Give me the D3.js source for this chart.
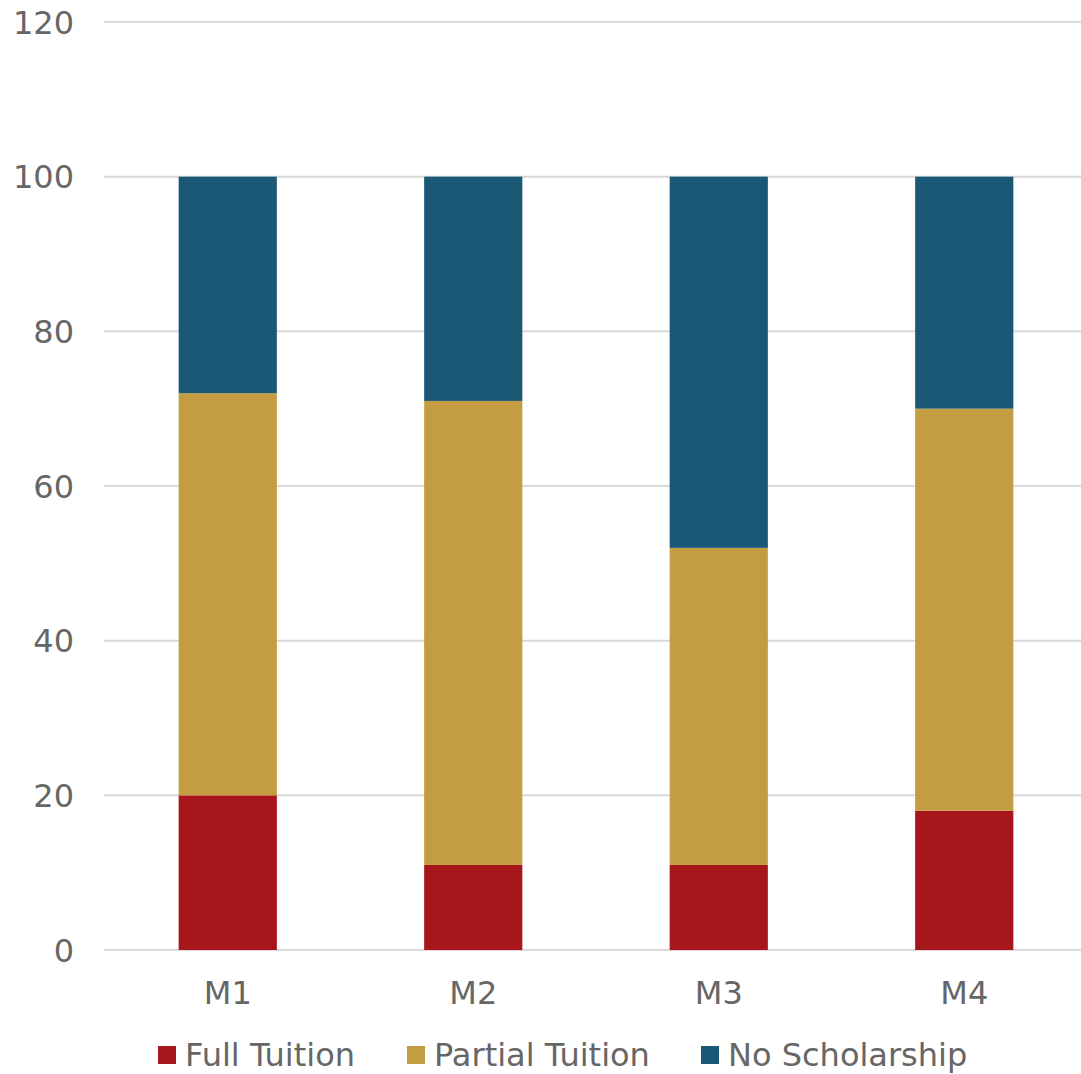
<!DOCTYPE html>
<html>
<head>
<meta charset="utf-8">
<script src="https://cdn.jsdelivr.net/npm/d3@7"></script>
<style>
  body { margin: 0; background: #fff; }
  text { font-family: "DejaVu Sans", Verdana, sans-serif; fill: #666; }
</style>
</head>
<body>
<div id="chart"></div>
<script>
const categories = ["M1", "M2", "M3", "M4"];
const fullTuition = [20, 11, 11, 18];
const partialTuition = [52, 60, 41, 52];
const noScholarship = [28, 29, 48, 30];
const seriesNames = ["Full Tuition", "Partial Tuition", "No Scholarship"];
const seriesColors = ["#A6161A", "#C49D43", "#1B5876"];
const yTicks = [0, 20, 40, 60, 80, 100, 120];

const width = 1081, height = 1074;

// table for the stack
const rows = categories.map((c, i) => ({
  cat: c,
  "Full Tuition": fullTuition[i],
  "Partial Tuition": partialTuition[i],
  "No Scholarship": noScholarship[i]
}));

const svg = d3.select("#chart").append("svg")
  .attr("width", width)
  .attr("height", height);

const x = d3.scaleBand().domain(categories).range([105, 1087])
  .paddingInner(0.6).paddingOuter(0.3);
const y = d3.scaleLinear().domain([0, 120]).range([950, 22]);
const color = d3.scaleOrdinal().domain(seriesNames).range(seriesColors);

// gridlines
svg.append("g")
  .selectAll("line")
  .data(yTicks)
  .join("line")
  .attr("x1", 104).attr("x2", width)
  .attr("y1", d => y(d)).attr("y2", d => y(d))
  .attr("stroke", "#d9d9d9")
  .attr("stroke-width", 2);

// y labels
svg.append("g")
  .selectAll("text")
  .data(yTicks)
  .join("text")
  .attr("x", 74)
  .attr("y", d => y(d))
  .attr("dy", "0.36em")
  .attr("text-anchor", "end")
  .style("font-size", "32px")
  .text(d => d);

const stacked = d3.stack().keys(seriesNames)(rows);

svg.append("g")
  .selectAll("g")
  .data(stacked)
  .join("g")
  .attr("fill", d => color(d.key))
  .selectAll("rect")
  .data(d => d)
  .join("rect")
  .attr("x", d => x(d.data.cat))
  .attr("width", x.bandwidth())
  .attr("y", d => y(d[1]))
  .attr("height", d => y(d[0]) - y(d[1]));

// x labels
svg.append("g")
  .selectAll("text")
  .data(categories)
  .join("text")
  .attr("x", d => x(d) + x.bandwidth() / 2)
  .attr("y", 1004)
  .attr("text-anchor", "middle")
  .style("font-size", "32px")
  .text(d => d);

// legend
const legendX = [158, 407, 701];
const legend = svg.append("g")
  .selectAll("g")
  .data(seriesNames)
  .join("g")
  .attr("transform", (d, i) => "translate(" + legendX[i] + ",1046)");

legend.append("rect")
  .attr("width", 18).attr("height", 18)
  .attr("fill", d => color(d));

legend.append("text")
  .attr("x", 27)
  .attr("y", 20)
  .style("font-size", "32px")
  .text(d => d);
</script>
</body>
</html>
